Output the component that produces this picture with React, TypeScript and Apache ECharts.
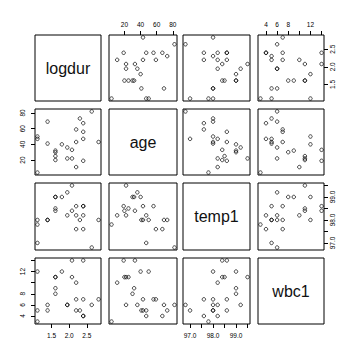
import React, { useEffect, useRef } from "react";
import * as echarts from "echarts";

// Variables (24 patients)
const logdur = [1.609, 2.303, 1.792, 2.398, 1.609, 2.639, 2.398, 2.833, 1.099, 2.197, 1.099, 2.079, 2.079, 1.609, 1.609, 1.946, 1.386, 1.099, 1.946, 2.197, 2.398, 2.398, 2.197, 1.386];
const age = [30, 73, 40, 47, 25, 82, 56, 43, 50, 59, 4, 22, 33, 20, 32, 36, 69, 47, 22, 11, 19, 67, 43, 41];
const temp1 = [99.0, 98.0, 99.0, 98.2, 98.5, 96.8, 98.6, 98.0, 98.0, 97.6, 97.8, 99.5, 98.4, 98.4, 99.0, 99.2, 98.0, 97.0, 98.2, 98.2, 98.6, 97.6, 98.6, 98.0];
const wbc1 = [8, 5, 12, 4, 11, 6, 7, 7, 12, 7, 3, 11, 14, 11, 9, 6, 6, 5, 6, 10, 14, 4, 5, 5];

const varNames = ["logdur", "age", "temp1", "wbc1"];
const vars = [logdur, age, temp1, wbc1];

// Tick marks and labelled ticks per variable
const logdurTicks = [1.5, 2.0, 2.5];
const ageTicks = [20, 40, 60, 80];
const temp1Ticks = [97.0, 97.5, 98.0, 98.5, 99.0, 99.5];
const wbc1Ticks = [4, 6, 8, 10, 12, 14];
const logdurLabels = [1.5, 2.0, 2.5];
const ageLabels = [20, 40, 60, 80];
const temp1Labels = [97.0, 98.0, 99.0];
const wbc1Labels = [4, 6, 8, 12];

const tickVals = [logdurTicks, ageTicks, temp1Ticks, wbc1Ticks];
const labelVals = [logdurLabels, ageLabels, temp1Labels, wbc1Labels];
const decimals = [1, 0, 1, 0];

const FONT = "'Liberation Sans', Arial, Helvetica, sans-serif";

export default function App() {
  const ref = useRef<HTMLDivElement>(null);

  useEffect(() => {
    if (!ref.current) return;
    const chart = echarts.init(ref.current, undefined, { renderer: "svg" });

    const lefts = [35, 109, 183, 258];
    const widths = [66, 68, 67, 66];
    const tops = [35, 109, 183, 258];
    const heights = [66, 66, 67, 66];

    const ranges = vars.map((v) => {
      const mn = Math.min(...v);
      const mx = Math.max(...v);
      const r = mx - mn;
      return [mn - 0.04 * r, mx + 0.04 * r];
    });

    const grids: any[] = [];
    const xAxes: any[] = [];
    const yAxes: any[] = [];
    const series: any[] = [];
    const graphics: any[] = [];

    for (let i = 0; i < 4; i++) {
      for (let j = 0; j < 4; j++) {
        const idx = i * 4 + j;
        grids.push({
          left: lefts[j],
          top: tops[i],
          width: widths[j],
          height: heights[i],
          show: true,
          borderColor: "#000",
          borderWidth: 1,
          backgroundColor: "transparent",
        });
        const diag = i === j;
        const xLab = !diag && ((j % 2 === 0 && i === 3) || (j % 2 === 1 && i === 0));
        const yLab = !diag && ((i % 2 === 0 && j === 3) || (i % 2 === 1 && j === 0));
        const xPos = j % 2 === 0 ? "bottom" : "top";
        const yPos = i % 2 === 0 ? "right" : "left";
        const fmtX = (v: number) => v.toFixed(decimals[j]);
        const fmtY = (v: number) => v.toFixed(decimals[i]);
        xAxes.push({
          type: "value",
          gridIndex: idx,
          min: ranges[j][0],
          max: ranges[j][1],
          position: xPos,
          show: !diag,
          splitLine: { show: false },
          axisLine: { show: false },
          axisTick: {
            show: xLab,
            inside: false,
            length: 4,
            customValues: tickVals[j],
            lineStyle: { color: "#000", width: 1 },
          },
          axisLabel: {
            show: xLab,
            customValues: labelVals[j],
            formatter: fmtX,
            margin: xPos === "top" ? 7 : 8,
            fontSize: 6.5,
            fontFamily: FONT,
            color: "#000",
          },
        });
        yAxes.push({
          type: "value",
          gridIndex: idx,
          min: ranges[i][0],
          max: ranges[i][1],
          position: yPos,
          show: !diag,
          splitLine: { show: false },
          axisLine: { show: false },
          axisTick: {
            show: yLab,
            inside: false,
            length: 4,
            customValues: tickVals[i],
            lineStyle: { color: "#000", width: 1 },
          },
          axisLabel: {
            show: yLab,
            customValues: labelVals[i],
            formatter: fmtY,
            rotate: 90,
            margin: yPos === "left" ? 9 : 5,
            fontSize: 6.5,
            fontFamily: FONT,
            color: "#000",
          },
        });
        if (diag) {
          graphics.push({
            type: "text",
            x: lefts[j] + widths[j] / 2,
            y: tops[i] + heights[i] / 2,
            style: {
              text: varNames[i],
              textAlign: "center",
              textVerticalAlign: "middle",
              fontSize: 16,
              fontWeight: "normal",
              fontFamily: FONT,
              fill: "#111",
            },
          });
        } else {
          series.push({
            type: "scatter",
            xAxisIndex: idx,
            yAxisIndex: idx,
            symbol: "circle",
            symbolSize: 3.5,
            itemStyle: {
              color: "rgba(0,0,0,0)",
              borderColor: "#000",
              borderWidth: 0.9,
            },
            emphasis: { disabled: true },
            data: vars[j].map((v, k) => [v, vars[i][k]]),
          });
        }
      }
    }

    chart.setOption({
      animation: false,
      backgroundColor: "#fff",
      grid: grids,
      xAxis: xAxes,
      yAxis: yAxes,
      series,
      graphic: graphics,
    });

    return () => chart.dispose();
  }, []);

  return (
    <div
      ref={ref}
      style={{ position: "fixed", left: 0, top: 0, width: 360, height: 360 }}
    />
  );
}
